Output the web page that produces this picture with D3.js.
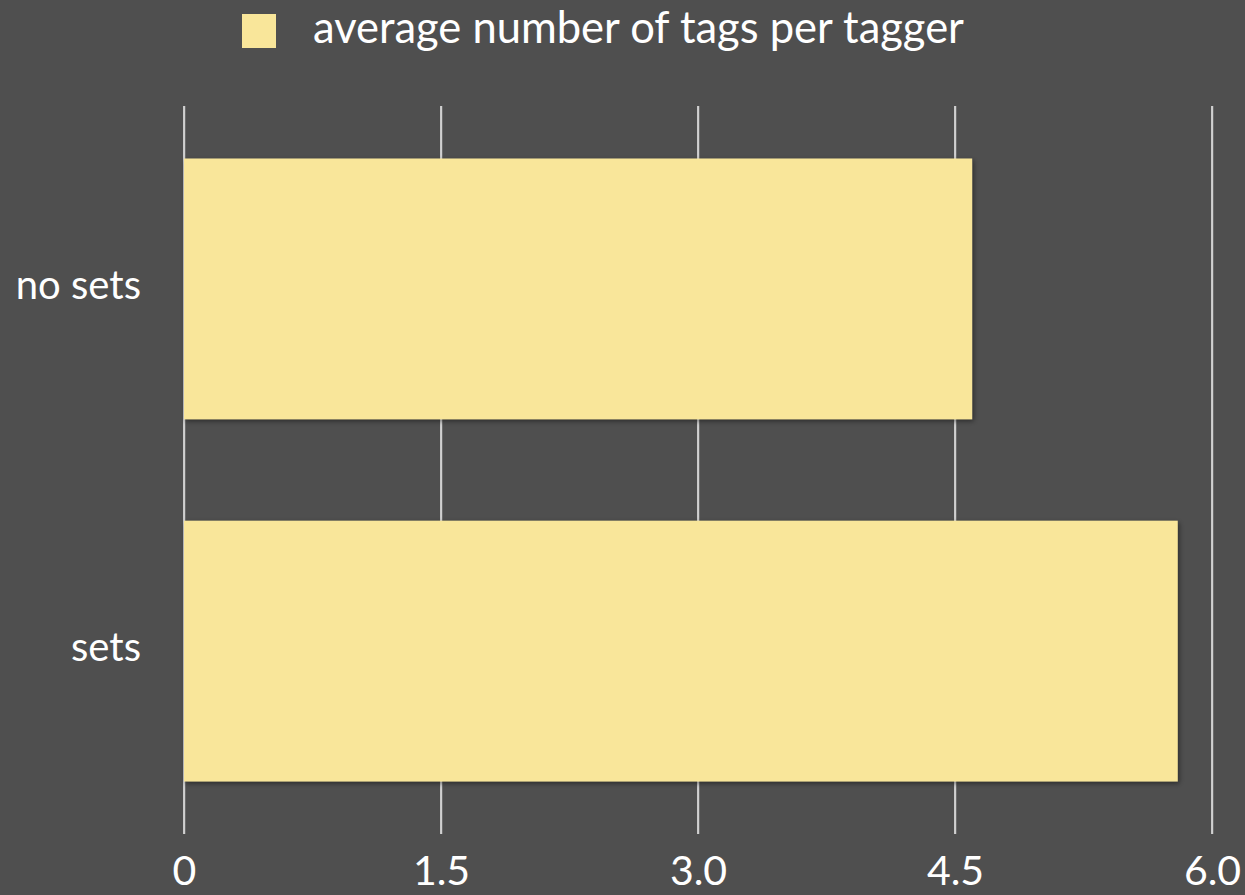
<!DOCTYPE html>
<html>
<head>
<meta charset="utf-8">
<script src="https://cdn.jsdelivr.net/npm/d3@7"></script>
<style>
  html, body { margin: 0; padding: 0; background: #4f4f4f; }
  svg { display: block; }
  text { font-family: "Lato", "Open Sans", sans-serif; fill: #ffffff; }
</style>
</head>
<body>
<svg id="chart" width="1245" height="895"></svg>
<script>
// Average number of tags per tagger, by condition
const categories = ["no sets", "sets"];
const avgTags = [4.6, 5.8];
const tickValues = [0, 1.5, 3.0, 4.5, 6.0];
const tickLabels = ["0", "1.5", "3.0", "4.5", "6.0"];
const seriesName = "average number of tags per tagger";

const svg = d3.select("#chart");
const W = 1245, H = 895;

svg.append("rect").attr("width", W).attr("height", H).attr("fill", "#4f4f4f");

const defs = svg.append("defs");
const shadow = defs.append("filter").attr("id", "barShadow")
  .attr("x", "-5%").attr("y", "-5%").attr("width", "110%").attr("height", "115%");
shadow.append("feDropShadow").attr("dx", 1.5).attr("dy", 2).attr("stdDeviation", 2.5)
  .attr("flood-color", "#000").attr("flood-opacity", 0.45);

const x = d3.scaleLinear().domain([0, 6]).range([184, 1212]);
const y = d3.scaleBand().domain(categories).range([106, 834])
  .paddingInner(0.28).paddingOuter(0.145);

// Vertical gridlines
const grid = svg.append("g");
grid.selectAll("line.shade").data(tickValues).join("line")
  .attr("class", "shade")
  .attr("x1", d => x(d) + 1).attr("x2", d => x(d) + 1)
  .attr("y1", 106).attr("y2", 834)
  .attr("stroke", "#8a8a8a").attr("stroke-width", 1);
grid.selectAll("line.main").data(tickValues).join("line")
  .attr("class", "main")
  .attr("x1", d => x(d)).attr("x2", d => x(d))
  .attr("y1", 106).attr("y2", 834)
  .attr("stroke", "#f2f2f2").attr("stroke-width", 1.5);

// Bars
svg.append("g").selectAll("rect").data(categories).join("rect")
  .attr("x", x(0))
  .attr("y", d => y(d))
  .attr("width", (d, i) => x(avgTags[i]) - x(0))
  .attr("height", y.bandwidth())
  .attr("fill", "#f9e69a")
  .attr("filter", "url(#barShadow)");

// Category labels
svg.append("g").selectAll("text").data(categories).join("text")
  .attr("x", 141)
  .attr("y", d => y(d) + y.bandwidth() / 2)
  .attr("dy", "0.25em")
  .attr("text-anchor", "end")
  .attr("font-size", 40)
  .text(d => d);

// Value axis labels
const xAxis = d3.axisBottom(x).tickValues(tickValues)
  .tickFormat((d, i) => tickLabels[i]).tickSize(0).tickPadding(0);
const axisG = svg.append("g").attr("transform", "translate(0,885)").call(xAxis);
axisG.select(".domain").remove();
axisG.selectAll("text")
  .attr("font-size", 41)
  .attr("y", 0)
  .attr("dy", null)
  .attr("fill", "#fff")
  .style("font-family", "Lato, 'Open Sans', sans-serif");

// Legend
const legend = svg.append("g");
legend.append("rect").attr("x", 242).attr("y", 14).attr("width", 34).attr("height", 34)
  .attr("fill", "#f9e69a");
legend.append("text").attr("x", 313).attr("y", 43)
  .attr("font-size", 43.5).text(seriesName);
</script>
</body>
</html>
